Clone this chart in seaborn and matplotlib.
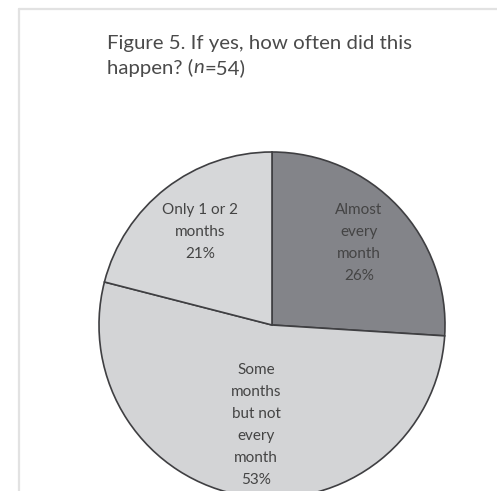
import matplotlib
matplotlib.use("Agg")
import matplotlib.pyplot as plt
from matplotlib.lines import Line2D
import numpy as np
import seaborn as sns

# Survey responses: how often did this happen? (n=54)
categories = ["Almost\nevery\nmonth", "Some\nmonths\nbut not\nevery\nmonth", "Only 1 or 2\nmonths"]
shares = [26, 53, 21]
colors = ["#838489", "#d3d4d6", "#d6d7d9"]
label_dist = [0.69, 0.585, 0.68]

sns.set_theme(style="white")
plt.rcParams["font.family"] = ["Lato", "DejaVu Sans"]

W, H, DPI = 497, 491, 100
fig = plt.figure(figsize=(W / DPI, H / DPI), dpi=DPI)
fig.patch.set_facecolor("white")
ax = fig.add_axes([0, 0, 1, 1])

# pie geometry in pixels
cx, cy, r = 272, 325, 173

wedges, _ = ax.pie(
    shares,
    colors=colors,
    startangle=90,
    counterclock=False,
    radius=1.0,
    wedgeprops=dict(edgecolor="#3f3f42", linewidth=1.2),
)
ax.set_aspect("auto")
ax.set_xlim(-cx / r, (W - cx) / r)
ax.set_ylim((cy - H) / r, cy / r)
ax.axis("off")

for w, cat, pct, d in zip(wedges, categories, shares, label_dist):
    mid = np.deg2rad((w.theta1 + w.theta2) / 2)
    ax.text(d * np.cos(mid), d * np.sin(mid), f"{cat}\n{pct}%",
            ha="center", va="center", fontsize=11, color="#444444",
            linespacing=1.72)

# light frame around the figure panel
fig.add_artist(Line2D([19 / W, 1], [1 - 9 / H, 1 - 9 / H], transform=fig.transFigure,
                      color="#e2e2e2", linewidth=1.6))
fig.add_artist(Line2D([19 / W, 19 / W], [0, 1 - 9 / H], transform=fig.transFigure,
                      color="#e2e2e2", linewidth=1.6))

# title with italic n
tfs = 14.7
tx, ty = 107 / W, 1 - 35 / H
lead = 24 / H
fig.text(tx, ty, "Figure 5. If yes, how often did this", ha="left", va="top",
         fontsize=tfs, color="#4a4a4a")
t2 = fig.text(tx, ty - lead, "happen? (", ha="left", va="top",
              fontsize=tfs, color="#4a4a4a")
fig.canvas.draw()
bb = t2.get_window_extent()
t3 = fig.text(bb.x1 / W, ty - lead, "n", ha="left", va="top",
              fontsize=tfs, color="#4a4a4a", style="italic")
fig.canvas.draw()
bb3 = t3.get_window_extent()
fig.text(bb3.x1 / W, ty - lead, "=54)", ha="left", va="top",
         fontsize=tfs, color="#4a4a4a")

fig.savefig("out.png", dpi=DPI, facecolor="white")
